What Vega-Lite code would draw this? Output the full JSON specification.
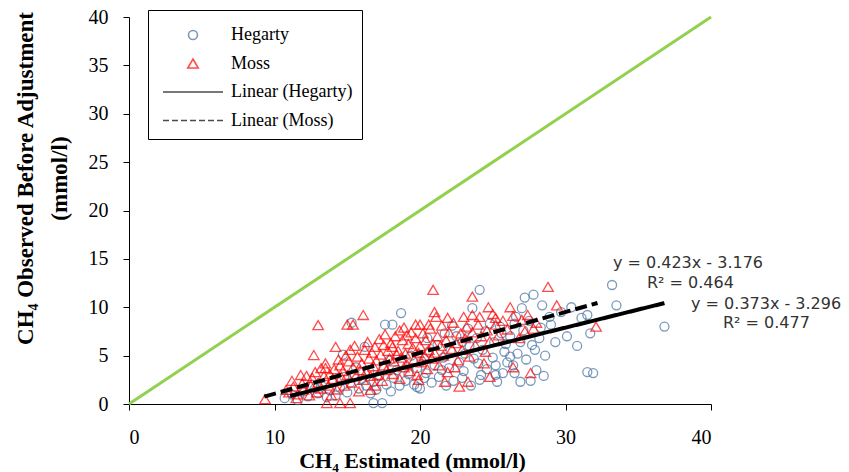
{
  "$schema": "https://vega.github.io/schema/vega-lite/v6.json",
  "width": 582,
  "height": 387,
  "autosize": {"type": "none"},
  "padding": {"left": 129, "top": 17, "right": 138, "bottom": 68},
  "background": "white",
  "config": {
    "view": {"stroke": null},
    "axis": {
      "domainColor": "black",
      "tickColor": "black",
      "labelColor": "black",
      "titleColor": "black",
      "grid": false,
      "labelFont": "Liberation Serif",
      "labelFontSize": 20,
      "titleFont": "Liberation Serif",
      "titleFontSize": 22,
      "titleFontWeight": "bold",
      "tickSize": 6,
      "domainWidth": 1,
      "tickWidth": 1
    }
  },
  "datasets": {
    "pts": [
      {"s":"Hegarty","x":10.7,"y":0.6},{"s":"Hegarty","x":12.8,"y":1.65},{"s":"Hegarty","x":13.6,"y":0.7},{"s":"Hegarty","x":14.7,"y":5.1},{"s":"Hegarty","x":15.3,"y":8.4},{"s":"Hegarty","x":15.6,"y":3.8},{"s":"Hegarty","x":16.2,"y":5.9},{"s":"Hegarty","x":16.6,"y":1.1},{"s":"Hegarty","x":16.8,"y":0.1},{"s":"Hegarty","x":17.4,"y":0.1},{"s":"Hegarty","x":17.6,"y":8.2},{"s":"Hegarty","x":18.1,"y":8.2},{"s":"Hegarty","x":18.7,"y":9.4},{"s":"Hegarty","x":19.8,"y":1.75},{"s":"Hegarty","x":20.3,"y":2.7},{"s":"Hegarty","x":21.5,"y":3.5},{"s":"Hegarty","x":22.9,"y":2.7},{"s":"Hegarty","x":22.9,"y":6.4},{"s":"Hegarty","x":23.3,"y":7.8},{"s":"Hegarty","x":23.6,"y":9.9},{"s":"Hegarty","x":24.0,"y":4.2},{"s":"Hegarty","x":24.1,"y":11.8},{"s":"Hegarty","x":24.2,"y":3.0},{"s":"Hegarty","x":25.2,"y":4.0},{"s":"Hegarty","x":25.2,"y":3.0},{"s":"Hegarty","x":25.6,"y":7.3},{"s":"Hegarty","x":25.7,"y":3.2},{"s":"Hegarty","x":25.8,"y":5.4},{"s":"Hegarty","x":26.2,"y":4.9},{"s":"Hegarty","x":26.4,"y":4.0},{"s":"Hegarty","x":26.5,"y":3.2},{"s":"Hegarty","x":26.6,"y":9.0},{"s":"Hegarty","x":26.9,"y":6.4},{"s":"Hegarty","x":26.9,"y":2.3},{"s":"Hegarty","x":27.0,"y":9.9},{"s":"Hegarty","x":27.2,"y":11.0},{"s":"Hegarty","x":27.8,"y":11.3},{"s":"Hegarty","x":27.9,"y":5.6},{"s":"Hegarty","x":28.2,"y":6.8},{"s":"Hegarty","x":28.4,"y":10.2},{"s":"Hegarty","x":28.9,"y":9.0},{"s":"Hegarty","x":31.1,"y":8.9},{"s":"Hegarty","x":31.5,"y":9.2},{"s":"Hegarty","x":31.7,"y":7.3},{"s":"Hegarty","x":31.5,"y":3.3},{"s":"Hegarty","x":31.9,"y":3.2},{"s":"Hegarty","x":33.2,"y":12.3},{"s":"Hegarty","x":33.5,"y":10.2},{"s":"Hegarty","x":36.8,"y":8.0},
      {"s":"Hegarty","x":11.2,"y":1.0},{"s":"Hegarty","x":11.6,"y":0.4},{"s":"Hegarty","x":12.0,"y":1.3},{"s":"Hegarty","x":12.3,"y":0.8},{"s":"Hegarty","x":12.6,"y":2.0},{"s":"Hegarty","x":13.0,"y":1.1},{"s":"Hegarty","x":13.3,"y":1.8},{"s":"Hegarty","x":13.8,"y":1.4},{"s":"Hegarty","x":14.0,"y":2.3},{"s":"Hegarty","x":14.2,"y":0.9},{"s":"Hegarty","x":14.5,"y":1.7},{"s":"Hegarty","x":14.8,"y":2.8},{"s":"Hegarty","x":15.0,"y":1.2},{"s":"Hegarty","x":15.2,"y":2.2},{"s":"Hegarty","x":15.5,"y":3.0},{"s":"Hegarty","x":15.8,"y":1.6},{"s":"Hegarty","x":16.0,"y":2.6},{"s":"Hegarty","x":16.3,"y":1.9},{"s":"Hegarty","x":16.5,"y":3.4},{"s":"Hegarty","x":16.8,"y":2.3},{"s":"Hegarty","x":17.0,"y":1.5},{"s":"Hegarty","x":17.2,"y":2.9},{"s":"Hegarty","x":17.5,"y":3.8},{"s":"Hegarty","x":17.7,"y":2.0},{"s":"Hegarty","x":17.9,"y":4.5},{"s":"Hegarty","x":18.0,"y":1.3},{"s":"Hegarty","x":18.2,"y":2.7},{"s":"Hegarty","x":18.4,"y":3.5},{"s":"Hegarty","x":18.6,"y":1.9},{"s":"Hegarty","x":18.8,"y":4.2},{"s":"Hegarty","x":19.0,"y":2.4},{"s":"Hegarty","x":19.2,"y":3.1},{"s":"Hegarty","x":19.4,"y":5.0},{"s":"Hegarty","x":19.6,"y":2.0},{"s":"Hegarty","x":19.8,"y":3.7},{"s":"Hegarty","x":20.0,"y":1.6},{"s":"Hegarty","x":20.1,"y":4.4},{"s":"Hegarty","x":20.4,"y":3.2},{"s":"Hegarty","x":20.6,"y":5.4},{"s":"Hegarty","x":20.8,"y":2.2},{"s":"Hegarty","x":21.0,"y":4.0},{"s":"Hegarty","x":21.2,"y":6.1},{"s":"Hegarty","x":21.3,"y":2.8},{"s":"Hegarty","x":21.6,"y":4.8},{"s":"Hegarty","x":21.8,"y":1.9},{"s":"Hegarty","x":22.0,"y":3.7},{"s":"Hegarty","x":22.1,"y":5.5},{"s":"Hegarty","x":22.3,"y":2.4},{"s":"Hegarty","x":22.5,"y":7.0},{"s":"Hegarty","x":22.7,"y":4.3},{"s":"Hegarty","x":23.0,"y":3.4},{"s":"Hegarty","x":23.1,"y":5.2},{"s":"Hegarty","x":23.4,"y":6.0},{"s":"Hegarty","x":23.5,"y":1.9},{"s":"Hegarty","x":23.7,"y":4.7},{"s":"Hegarty","x":23.9,"y":6.8},{"s":"Hegarty","x":24.1,"y":2.5},{"s":"Hegarty","x":24.3,"y":5.6},{"s":"Hegarty","x":24.5,"y":7.5},{"s":"Hegarty","x":24.6,"y":3.6},{"s":"Hegarty","x":24.8,"y":8.3},{"s":"Hegarty","x":25.0,"y":4.8},{"s":"Hegarty","x":25.1,"y":6.4},{"s":"Hegarty","x":25.3,"y":2.3},{"s":"Hegarty","x":25.5,"y":8.0},{"s":"Hegarty","x":25.9,"y":6.2},{"s":"Hegarty","x":26.0,"y":4.3},{"s":"Hegarty","x":26.2,"y":7.0},{"s":"Hegarty","x":26.5,"y":8.3},{"s":"Hegarty","x":26.7,"y":5.2},{"s":"Hegarty","x":27.1,"y":7.6},{"s":"Hegarty","x":27.3,"y":4.6},{"s":"Hegarty","x":27.5,"y":8.6},{"s":"Hegarty","x":27.7,"y":6.1},{"s":"Hegarty","x":28.0,"y":3.5},{"s":"Hegarty","x":28.3,"y":7.9},{"s":"Hegarty","x":28.6,"y":5.0},{"s":"Hegarty","x":29.0,"y":8.2},{"s":"Hegarty","x":29.3,"y":6.4},{"s":"Hegarty","x":29.7,"y":9.5},{"s":"Hegarty","x":30.1,"y":7.0},{"s":"Hegarty","x":30.4,"y":10.0},{"s":"Hegarty","x":30.8,"y":6.0},{"s":"Hegarty","x":27.6,"y":2.4},{"s":"Hegarty","x":28.5,"y":2.9},{"s":"Hegarty","x":22.2,"y":8.1},{"s":"Hegarty","x":21.7,"y":7.3},{"s":"Hegarty","x":20.5,"y":6.8},
      {"s":"Moss","x":9.35,"y":0.5},{"s":"Moss","x":10.8,"y":1.45},{"s":"Moss","x":11.2,"y":2.4},{"s":"Moss","x":11.5,"y":0.6},{"s":"Moss","x":11.8,"y":3.0},{"s":"Moss","x":12.6,"y":2.7},{"s":"Moss","x":12.7,"y":5.06},{"s":"Moss","x":13.0,"y":8.16},{"s":"Moss","x":13.2,"y":3.7},{"s":"Moss","x":13.5,"y":3.7},{"s":"Moss","x":13.6,"y":0.1},{"s":"Moss","x":14.2,"y":5.9},{"s":"Moss","x":14.5,"y":4.0},{"s":"Moss","x":14.5,"y":0.1},{"s":"Moss","x":15.0,"y":8.2},{"s":"Moss","x":15.2,"y":5.6},{"s":"Moss","x":15.2,"y":0.1},{"s":"Moss","x":15.4,"y":8.2},{"s":"Moss","x":16.1,"y":9.2},{"s":"Moss","x":16.6,"y":1.45},{"s":"Moss","x":16.7,"y":5.3},{"s":"Moss","x":17.5,"y":6.1},{"s":"Moss","x":18.1,"y":5.9},{"s":"Moss","x":18.4,"y":5.1},{"s":"Moss","x":18.6,"y":7.6},{"s":"Moss","x":19.1,"y":7.1},{"s":"Moss","x":19.7,"y":8.2},{"s":"Moss","x":19.9,"y":2.5},{"s":"Moss","x":20.0,"y":8.2},{"s":"Moss","x":20.6,"y":8.2},{"s":"Moss","x":20.9,"y":11.8},{"s":"Moss","x":21.0,"y":9.5},{"s":"Moss","x":21.1,"y":9.0},{"s":"Moss","x":21.7,"y":2.3},{"s":"Moss","x":21.9,"y":8.9},{"s":"Moss","x":22.4,"y":3.8},{"s":"Moss","x":23.0,"y":9.0},{"s":"Moss","x":23.3,"y":2.3},{"s":"Moss","x":23.6,"y":11.1},{"s":"Moss","x":23.6,"y":9.2},{"s":"Moss","x":24.1,"y":9.0},{"s":"Moss","x":24.5,"y":5.4},{"s":"Moss","x":24.7,"y":10.0},{"s":"Moss","x":25.2,"y":8.9},{"s":"Moss","x":25.2,"y":8.2},{"s":"Moss","x":26.2,"y":10.0},{"s":"Moss","x":27.0,"y":8.7},{"s":"Moss","x":27.4,"y":9.2},{"s":"Moss","x":27.6,"y":3.2},{"s":"Moss","x":27.8,"y":7.8},{"s":"Moss","x":28.8,"y":12.1},{"s":"Moss","x":29.4,"y":10.2},{"s":"Moss","x":32.1,"y":8.0},
      {"s":"Moss","x":11.0,"y":1.2},{"s":"Moss","x":11.3,"y":1.8},{"s":"Moss","x":11.6,"y":1.0},{"s":"Moss","x":11.9,"y":2.1},{"s":"Moss","x":12.0,"y":1.5},{"s":"Moss","x":12.2,"y":2.9},{"s":"Moss","x":12.4,"y":0.9},{"s":"Moss","x":12.5,"y":1.9},{"s":"Moss","x":12.8,"y":3.3},{"s":"Moss","x":12.9,"y":1.2},{"s":"Moss","x":13.0,"y":2.2},{"s":"Moss","x":13.2,"y":1.6},{"s":"Moss","x":13.4,"y":2.9},{"s":"Moss","x":13.5,"y":4.2},{"s":"Moss","x":13.7,"y":1.9},{"s":"Moss","x":13.8,"y":3.1},{"s":"Moss","x":13.9,"y":0.9},{"s":"Moss","x":14.0,"y":2.6},{"s":"Moss","x":14.1,"y":3.6},{"s":"Moss","x":14.3,"y":1.5},{"s":"Moss","x":14.4,"y":4.6},{"s":"Moss","x":14.6,"y":2.8},{"s":"Moss","x":14.7,"y":3.4},{"s":"Moss","x":14.8,"y":1.9},{"s":"Moss","x":14.9,"y":5.0},{"s":"Moss","x":15.0,"y":3.0},{"s":"Moss","x":15.1,"y":4.4},{"s":"Moss","x":15.3,"y":2.2},{"s":"Moss","x":15.4,"y":3.8},{"s":"Moss","x":15.5,"y":6.0},{"s":"Moss","x":15.6,"y":2.9},{"s":"Moss","x":15.7,"y":4.9},{"s":"Moss","x":15.8,"y":1.3},{"s":"Moss","x":15.9,"y":3.5},{"s":"Moss","x":16.0,"y":4.2},{"s":"Moss","x":16.1,"y":2.5},{"s":"Moss","x":16.2,"y":5.6},{"s":"Moss","x":16.3,"y":3.3},{"s":"Moss","x":16.4,"y":6.4},{"s":"Moss","x":16.5,"y":4.7},{"s":"Moss","x":16.6,"y":2.9},{"s":"Moss","x":16.8,"y":3.9},{"s":"Moss","x":16.9,"y":5.9},{"s":"Moss","x":16.9,"y":1.9},{"s":"Moss","x":17.0,"y":4.5},{"s":"Moss","x":17.1,"y":3.0},{"s":"Moss","x":17.2,"y":6.7},{"s":"Moss","x":17.3,"y":5.1},{"s":"Moss","x":17.4,"y":2.4},{"s":"Moss","x":17.5,"y":4.0},{"s":"Moss","x":17.6,"y":7.2},{"s":"Moss","x":17.7,"y":3.5},{"s":"Moss","x":17.8,"y":5.5},{"s":"Moss","x":17.9,"y":4.7},{"s":"Moss","x":18.0,"y":6.3},{"s":"Moss","x":18.1,"y":3.1},{"s":"Moss","x":18.2,"y":4.4},{"s":"Moss","x":18.3,"y":7.0},{"s":"Moss","x":18.5,"y":5.5},{"s":"Moss","x":18.6,"y":2.6},{"s":"Moss","x":18.7,"y":4.8},{"s":"Moss","x":18.8,"y":6.6},{"s":"Moss","x":18.9,"y":3.8},{"s":"Moss","x":18.9,"y":7.9},{"s":"Moss","x":19.0,"y":5.2},{"s":"Moss","x":19.1,"y":4.1},{"s":"Moss","x":19.2,"y":6.2},{"s":"Moss","x":19.3,"y":3.4},{"s":"Moss","x":19.4,"y":7.4},{"s":"Moss","x":19.5,"y":5.8},{"s":"Moss","x":19.6,"y":4.6},{"s":"Moss","x":19.7,"y":6.8},{"s":"Moss","x":19.8,"y":3.0},{"s":"Moss","x":19.9,"y":5.3},{"s":"Moss","x":20.0,"y":6.0},{"s":"Moss","x":20.1,"y":4.3},{"s":"Moss","x":20.2,"y":7.3},{"s":"Moss","x":20.3,"y":5.0},{"s":"Moss","x":20.4,"y":6.6},{"s":"Moss","x":20.5,"y":3.6},{"s":"Moss","x":20.6,"y":5.6},{"s":"Moss","x":20.7,"y":7.8},{"s":"Moss","x":20.8,"y":4.7},{"s":"Moss","x":20.9,"y":6.2},{"s":"Moss","x":21.0,"y":5.3},{"s":"Moss","x":21.2,"y":7.0},{"s":"Moss","x":21.3,"y":4.0},{"s":"Moss","x":21.4,"y":6.0},{"s":"Moss","x":21.5,"y":8.1},{"s":"Moss","x":21.6,"y":5.0},{"s":"Moss","x":21.8,"y":6.6},{"s":"Moss","x":21.9,"y":3.3},{"s":"Moss","x":22.0,"y":7.4},{"s":"Moss","x":22.2,"y":5.7},{"s":"Moss","x":22.3,"y":8.4},{"s":"Moss","x":22.5,"y":6.3},{"s":"Moss","x":22.6,"y":4.5},{"s":"Moss","x":22.8,"y":7.3},{"s":"Moss","x":22.9,"y":5.6},{"s":"Moss","x":23.1,"y":6.8},{"s":"Moss","x":23.2,"y":8.0},{"s":"Moss","x":23.4,"y":4.9},{"s":"Moss","x":23.6,"y":7.4},{"s":"Moss","x":23.8,"y":6.1},{"s":"Moss","x":24.0,"y":8.2},{"s":"Moss","x":24.2,"y":7.0},{"s":"Moss","x":24.4,"y":4.2},{"s":"Moss","x":24.6,"y":7.6},{"s":"Moss","x":24.8,"y":6.5},{"s":"Moss","x":25.0,"y":9.3},{"s":"Moss","x":25.4,"y":7.1},{"s":"Moss","x":25.7,"y":8.6},{"s":"Moss","x":26.0,"y":7.7},{"s":"Moss","x":26.4,"y":9.1},{"s":"Moss","x":26.8,"y":6.8},{"s":"Moss","x":27.2,"y":7.5},{"s":"Moss","x":28.0,"y":8.4},{"s":"Moss","x":22.7,"y":1.8},{"s":"Moss","x":24.8,"y":2.8},{"s":"Moss","x":26.4,"y":3.8}
    ],
    "trend": [
      {"s":"Linear (Hegarty)","x":11.07,"y":0.83},
      {"s":"Linear (Hegarty)","x":36.8,"y":10.43},
      {"s":"Linear (Moss)","x":9.3,"y":0.76},
      {"s":"Linear (Moss)","x":32.2,"y":10.44}
    ],
    "diag": [{"x":0,"y":0},{"x":40,"y":40}],
    "eq": [
      {"t":"y = 0.423x - 3.176","x":33.26,"y":14.57},
      {"t":"R² = 0.464","x":35.6,"y":12.5},
      {"t":"y = 0.373x - 3.296","x":38.63,"y":10.33},
      {"t":"R² = 0.477","x":40.82,"y":8.37}
    ]
  },
  "encoding": {
    "x": {"field":"x","type":"quantitative","scale":{"domain":[0,40],"nice":false},
      "axis":{"values":[0,10,20,30,40],"title":"CH₄ Estimated (mmol/l)","labelPadding":17,"titleX":283,"titleY":63,"titleBaseline":"alphabetic"}},
    "y": {"field":"y","type":"quantitative","scale":{"domain":[0,40],"nice":false},
      "axis":{"values":[0,5,10,15,20,25,30,35,40],"title":["CH₄ Observed Before Adjustment","(mmol/l)"],"titleFontSize":23,"labelPadding":15,"titleX":-97,"titleY":161,"titleAngle":-90,"titleAlign":"center","titleBaseline":"alphabetic","titleLineHeight":34}}
  },
  "layer": [
    {
      "data": {"name":"diag"},
      "mark": {"type":"line","color":"#92D050","strokeWidth":3}
    },
    {
      "data": {"name":"pts"},
      "mark": {"type":"point","filled":false,"size":900,"strokeWidth":1.3},
      "encoding": {
        "shape": {"field":"s","type":"nominal","title":null,
          "scale":{"domain":["Hegarty","Moss","Linear (Hegarty)","Linear (Moss)"],"range":["M-0.3,0A0.3,0.3 0 1,1 0.3,0A0.3,0.3 0 1,1 -0.3,0Z","M0,-0.3L0.35,0.3L-0.35,0.3Z","M-2,0H2","M-2,0H-1.6M-1.4,0H-1M-0.8,0H-0.4M-0.2,0H0.2M0.4,0H0.8M1,0H1.4M1.6,0H2"]},
          "legend":{"orient":"none","legendX":19,"legendY":-7,"strokeColor":"black","fillColor":"white","padding":9,"labelFont":"Liberation Serif","labelFontSize":18,"labelColor":"black","rowPadding":3.5,"labelOffset":22,"symbolOffset":20,"symbolSize":900,"symbolStrokeWidth":1.6}},
        "stroke": {"field":"s","type":"nominal","title":null,
          "scale":{"domain":["Hegarty","Moss","Linear (Hegarty)","Linear (Moss)"],"range":["#44709F","#FF0000","#000000","#000000"]}}
      }
    },
    {
      "data": {"name":"trend"},
      "mark": {"type":"line","color":"black","strokeWidth":4},
      "encoding": {
        "detail": {"field":"s","type":"nominal"},
        "strokeDash": {"field":"s","type":"nominal","legend":null,
          "scale":{"domain":["Linear (Hegarty)","Linear (Moss)"],"range":[[1,0],[12,5]]}}
      }
    },
    {
      "data": {"name":"eq"},
      "mark": {"type":"text","align":"left","baseline":"middle","font":"DejaVu Sans","fontSize":16,"color":"#333333"},
      "encoding": {"text": {"field":"t","type":"nominal"}}
    }
  ]
}
